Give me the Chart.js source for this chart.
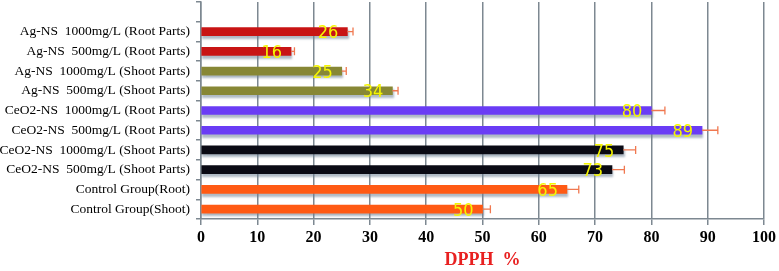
<!DOCTYPE html>
<html>
<head>
<meta charset="utf-8">
<script src="https://cdn.jsdelivr.net/npm/chart.js@4/dist/chart.umd.min.js"></script>
<style>
  html, body { margin: 0; padding: 0; background: #fff; }
  #wrap { width: 779px; height: 271px; }
</style>
</head>
<body>
<div id="wrap"><canvas id="chart" width="779" height="271"></canvas></div>
<script>
// categories top to bottom (first one is the empty band at the top of the axis)
const categories = [
  "",
  "Ag-NS  1000mg/L (Root Parts)",
  "Ag-NS  500mg/L (Root Parts)",
  "Ag-NS  1000mg/L (Shoot Parts)",
  "Ag-NS  500mg/L (Shoot Parts)",
  "CeO2-NS  1000mg/L (Root Parts)",
  "CeO2-NS  500mg/L (Root Parts)",
  "CeO2-NS  1000mg/L (Shoot Parts)",
  "CeO2-NS  500mg/L (Shoot Parts)",
  "Control Group(Root)",
  "Control Group(Shoot)"
];
const dpphValues = [null, 26, 16, 25, 34, 80, 89, 75, 73, 65, 50];
const dpphErrors = [null, 1.0, 0.6, 0.8, 1.0, 2.4, 2.8, 2.2, 2.2, 2.1, 1.4];
const barColors = ["#000", "#c81414", "#c81414", "#878735", "#878735",
  "#6a3cf5", "#6a3cf5", "#0a0a14", "#0a0a14", "#ff5a14", "#ff5a14"];
const xTicks = [0, 10, 20, 30, 40, 50, 60, 70, 80, 90, 100];

// soft shadow under the bars
const barShadow = {
  id: "barShadow",
  beforeDatasetsDraw(chart) {
    const ctx = chart.ctx;
    ctx.save();
    ctx.shadowColor = "rgba(110,130,150,0.55)";
    ctx.shadowOffsetY = 3;
    ctx.shadowOffsetX = 1;
    ctx.shadowBlur = 2;
  },
  afterDatasetsDraw(chart) {
    chart.ctx.restore();
  }
};

// error bars + yellow value labels
const extras = {
  id: "extras",
  afterDatasetsDraw(chart) {
    const ctx = chart.ctx;
    const xs = chart.scales.x;
    const meta = chart.getDatasetMeta(0);
    ctx.save();
    ctx.strokeStyle = "#f07850";
    ctx.lineWidth = 1.3;
    meta.data.forEach((bar, i) => {
      const v = dpphValues[i];
      if (v == null) return;
      const x1 = xs.getPixelForValue(v);
      const x2 = xs.getPixelForValue(v + dpphErrors[i]);
      ctx.beginPath();
      ctx.moveTo(x1, bar.y);
      ctx.lineTo(x2, bar.y);
      ctx.moveTo(x2, bar.y - 4);
      ctx.lineTo(x2, bar.y + 4);
      ctx.stroke();
    });
    ctx.fillStyle = "#f5f500";
    ctx.font = "18px 'Liberation Sans Narrow', 'DejaVu Sans Condensed', sans-serif";
    ctx.textAlign = "right";
    ctx.textBaseline = "middle";
    meta.data.forEach((bar, i) => {
      const v = dpphValues[i];
      if (v == null) return;
      ctx.fillText(String(v), bar.x - 9, bar.y + 2);
    });
    ctx.restore();
  }
};

new Chart(document.getElementById("chart"), {
  type: "bar",
  data: {
    labels: categories,
    datasets: [{
      data: dpphValues,
      backgroundColor: barColors,
      barThickness: 8,
      borderWidth: 0
    }]
  },
  options: {
    indexAxis: "y",
    responsive: false,
    animation: false,
    layout: { padding: { top: 2, right: 11, left: 0, bottom: 0 } },
    plugins: {
      legend: { display: false },
      tooltip: { enabled: false }
    },
    scales: {
      x: {
        min: 0,
        max: 100,
        afterBuildTicks(scale) {
          scale.ticks = xTicks.map(v => ({ value: v }));
        },
        afterFit(scale) { scale.height = 52; },
        grid: {
          color: "#7d8891",
          lineWidth: 1.5,
          tickLength: 6,
          drawTicks: true
        },
        border: { color: "#7d8891", width: 1.5 },
        ticks: {
          color: "#000",
          padding: 3,
          font: { family: "'Liberation Serif'", size: 16, weight: "bold" }
        },
        title: {
          display: true,
          text: "DPPH  %",
          color: "#e82020",
          padding: { top: 7, bottom: 0 },
          font: { family: "'Liberation Serif'", size: 18, weight: "bold" }
        }
      },
      y: {
        afterFit(scale) {
          scale.width = 201;
          scale.paddingTop = 0;
          scale.paddingBottom = 0;
        },
        grid: {
          offset: true,
          drawOnChartArea: false,
          color: "#7d8891",
          lineWidth: 1.5,
          tickLength: 5
        },
        border: { color: "#7d8891", width: 1.5 },
        ticks: {
          color: "#000",
          padding: 6,
          autoSkip: false,
          font: { family: "'Liberation Serif'", size: 13.5 }
        }
      }
    }
  },
  plugins: [barShadow, extras]
});
</script>
</body>
</html>
